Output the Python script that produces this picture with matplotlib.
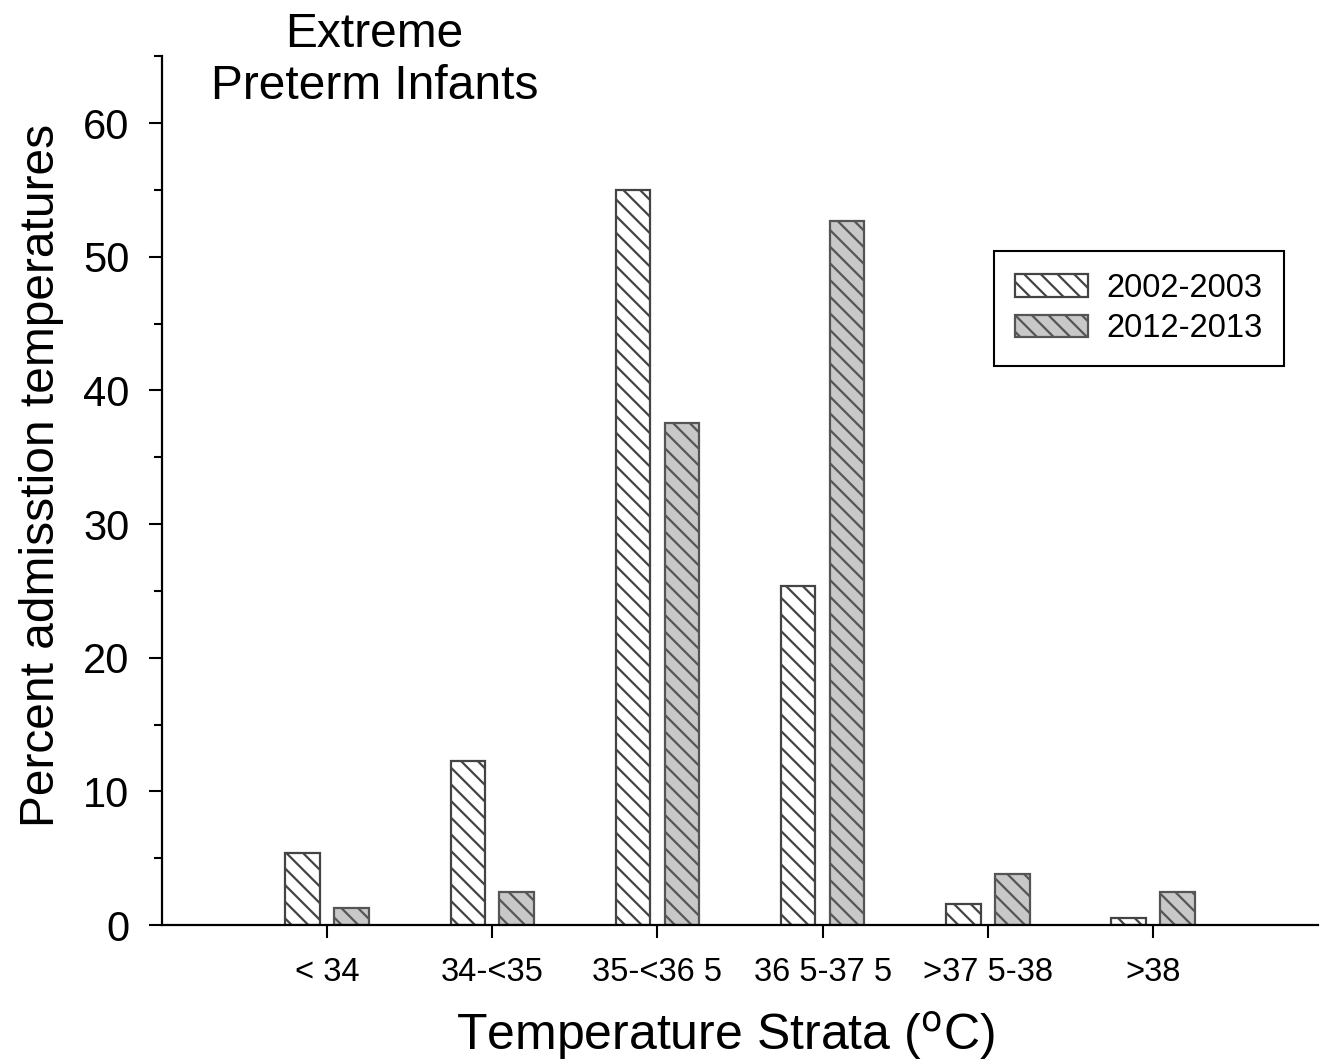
import matplotlib
matplotlib.use("Agg")
import matplotlib.pyplot as plt
import numpy as np
from matplotlib.ticker import MultipleLocator

plt.rcParams['font.family'] = ['Liberation Sans', 'DejaVu Sans']
plt.rcParams['hatch.linewidth'] = 1.6

categories = ['< 34', '34-<35', '35-<36 5', '36 5-37 5', '>37 5-38', '>38']
series_names = ['2002-2003', '2012-2013']
pct_2002 = [5.4, 12.3, 55.0, 25.4, 1.6, 0.5]
pct_2012 = [1.3, 2.5, 37.6, 52.7, 3.8, 2.5]

fig = plt.figure(figsize=(13.28, 10.63), dpi=100)
ax = fig.add_axes([0.122, 0.1298, 0.8705, 0.8172])

x = np.arange(len(categories))
w = 0.21
off = 0.148
ax.bar(x - off, pct_2002, w, facecolor='white', edgecolor='#444444',
       hatch='\\\\', linewidth=1.6, label=series_names[0])
ax.bar(x + off, pct_2012, w, facecolor='#c8c8c8', edgecolor='#555555',
       hatch='\\\\', linewidth=1.6, label=series_names[1])

ax.set_xlim(-1, 6)
ax.set_ylim(0, 65)
ax.set_xticks(x)
ax.set_xticklabels(categories, fontsize=23.5)
ax.yaxis.set_major_locator(MultipleLocator(10))
ax.yaxis.set_minor_locator(MultipleLocator(5))
ax.tick_params(axis='y', which='major', labelsize=30, length=9.5, width=1.5, pad=14)
ax.tick_params(axis='y', which='minor', length=6, width=1.5)
ax.tick_params(axis='x', length=9, width=1.5, pad=14)

for s in ['top', 'right']:
    ax.spines[s].set_visible(False)
for s in ['left', 'bottom']:
    ax.spines[s].set_linewidth(1.6)

ax.set_ylabel('Percent admisstion temperatures', fontsize=34.5)
ax.yaxis.set_label_coords(-0.0845, 0.517)
ax.set_xlabel('Temperature Strata ($^{\\rm o}$C)', fontsize=36)
ax.xaxis.set_label_coords(0.487, -0.098)

fig.text(0.282, 0.943, 'Extreme\nPreterm Infants', fontsize=34.5,
         ha='center', va='center', linespacing=1.22)

leg = ax.legend(loc='center', bbox_to_anchor=(0.8575, 0.7098),
                bbox_transform=fig.transFigure, fontsize=23.5,
                fancybox=False, edgecolor='black', framealpha=1,
                handlelength=2.25, handleheight=0.7, handletextpad=0.55,
                borderpad=0.65, labelspacing=0.3, borderaxespad=0)
leg.get_frame().set_linewidth(1.5)

fig.savefig('out.png', dpi=100)
